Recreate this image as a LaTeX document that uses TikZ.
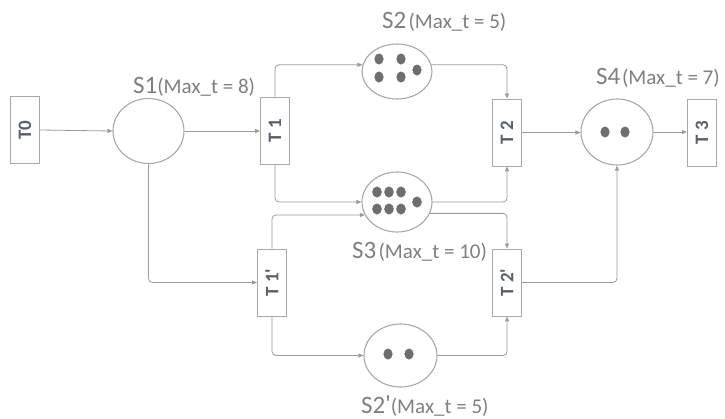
\documentclass[tikz,border=0pt]{standalone}
\usepackage{fontspec}
\newfontfamily\lab{Carlito}
\usetikzlibrary{shapes.geometric,arrows.meta}
\definecolor{ln}{HTML}{9A9A9A}
\definecolor{bd}{HTML}{A8A8A8}
\definecolor{tx}{HTML}{7F7F7F}
\definecolor{tk}{HTML}{6E6E6E}
\definecolor{tt}{HTML}{58606C}
\begin{document}
\begin{tikzpicture}[x=1pt,y=-1pt,
  trans/.style={draw=bd,line width=0.9pt,rectangle,minimum width=29pt,minimum height=67pt,inner sep=0pt,fill=white},
  place/.style={draw=bd,line width=1.1pt,ellipse,inner sep=0pt,fill=white},
  tlab/.style={rotate=90,font=\lab\fontsize{19}{19}\selectfont\bfseries,text=tt},
  slab/.style={anchor=base west,inner sep=0pt,text=tx,font=\lab},
  conn/.style={draw=ln,line width=0.8pt,rounded corners=4pt,-{Triangle[length=5pt,width=4pt]}},
  tok/.style={fill=tk,draw=none}]
\useasboundingbox (0,0) rectangle (725,418);
% transitions
\node[trans] (T0) at (25,130) {};
\node[tlab] at (T0) {T0};
\node[trans] (T1) at (275,130.5) {};
\node[tlab] at (T1) {T 1};
\node[trans] (T2) at (507,132.5) {};
\node[tlab] at (T2) {T 2};
\node[trans] (T3) at (702,133) {};
\node[tlab] at (T3) {T 3};
\node[trans] (T1p) at (272,282.5) {};
\node[tlab] at (T1p) {T 1'};
\node[trans] (T2p) at (507,282.5) {};
\node[tlab] at (T2p) {T 2'};
% places
\node[place,minimum width=71pt,minimum height=65pt] (S1) at (148.5,131) {};
\node[place,minimum width=70pt,minimum height=55pt] (S2) at (397,71.5) {};
\node[place,minimum width=70pt,minimum height=60pt] (S3) at (397,202) {};
\node[place,minimum width=72pt,minimum height=66pt] (S4) at (617,132) {};
\node[place,minimum width=73pt,minimum height=63pt] (S2p) at (400.5,355.5) {};
% tokens
\foreach \p in {(379,59),(401,59),(379,77),(401,77),(417,70)}
  \fill[tok] \p ellipse [x radius=4.6pt,y radius=5.5pt];
\foreach \p in {(377,192),(389,192),(401,192),(377,209),(389,209),(401,209),(417,202)}
  \fill[tok] \p ellipse [x radius=4.8pt,y radius=5.5pt];
\foreach \p in {(605,132),(625,132),(388,354),(409,354)}
  \fill[tok] \p ellipse [x radius=4.6pt,y radius=5.5pt];
% labels
\node[slab] (L1) at (133,93) {{\fontsize{25}{25}\selectfont S1}{\fontsize{21}{21}\selectfont(Max\_t = 8)}};
\node[slab] (L2) at (382,28) {{\fontsize{25}{25}\selectfont S2} {\fontsize{21}{21}\selectfont(Max\_t = 5)}};
\node[slab] (L3) at (352,258) {{\fontsize{25}{25}\selectfont S3} {\fontsize{21}{21}\selectfont(Max\_t = 10)}};
\node[slab] (L4) at (596,84) {{\fontsize{25}{25}\selectfont S4}\,{\fontsize{21}{21}\selectfont(Max\_t = 7)}};
\node[slab] (L5) at (361,413) {{\fontsize{25}{25}\selectfont S2\raisebox{1pt}{'}}{\fontsize{21}{21}\selectfont(Max\_t = 5)}};
% connectors
\draw[conn] (T0.east) -- (S1.west);
\draw[conn] (S1.east) -- (S1.east -| T1.west);
\draw[conn] (T1.north) |- (S2.169);
\draw[conn] (T1.south) |- (S3.180);
\draw[conn] (S2.11) -| (T2.north);
\draw[conn] (S3.0) -| (T2.south);
\draw[conn] (T2.east) -- (T2.east -| S4.west);
\draw[conn] (S4.east) -- (S4.east -| T3.west);
\draw[conn] (S1.south) |- (T1p.west);
\draw[conn] (T1p.north) |- (S3.202);
\draw[conn] (S3.341) -| (T2p.north);
\draw[conn] (T1p.south) |- (S2p.west);
\draw[conn] (S2p.east) -| (T2p.south);
\draw[conn] (T2p.east) -| (S4.south);
\end{tikzpicture}
\end{document}
